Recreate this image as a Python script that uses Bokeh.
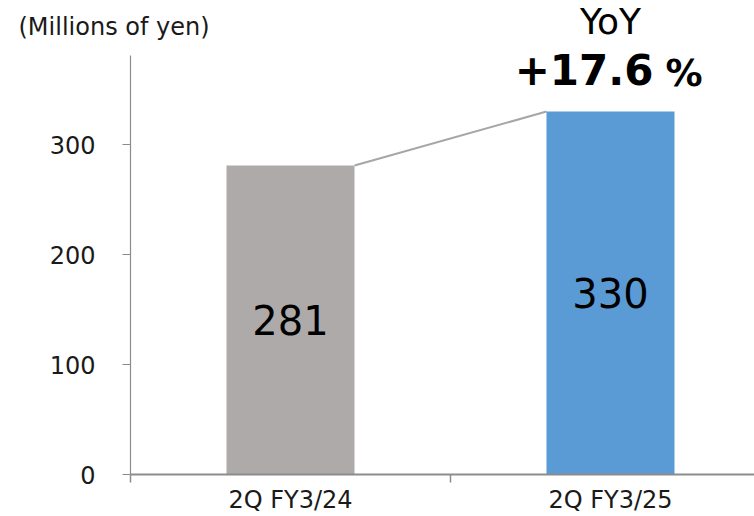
from bokeh.plotting import figure
from bokeh.layouts import column
from bokeh.models import Range1d, FixedTicker, ColumnDataSource
from bokeh.embed import file_html
from bokeh.resources import INLINE
from bokeh.core.properties import value

# Quarterly figures (millions of yen)
periods = ["2Q FY3/24", "2Q FY3/25"]
amounts = [281, 330]
bar_colors = ["#AEAAAA", "#5B9BD5"]
y_ticks = [0, 100, 200, 300]
unit_text = "(Millions of yen)"
yoy_title = "YoY"
yoy_value = "+17.6"
yoy_unit = "%"

FONT = "DejaVu Sans"
TEXT_COLOR = "#1a1a1a"
AXIS_COLOR = "#8c8c8c"

W = 754
HEADER_H = 44          # strip holding the unit caption and the YoY heading
CHART_H = 516 - HEADER_H
LEFT = 130
BOTTOM = 42

X_MAX = 1.95
Y_AXIS_TOP = 381       # value axis is drawn from 0 up to here
px_per_x = (W - LEFT) / X_MAX
px_per_y = 419 / Y_AXIS_TOP
Y_MAX = (CHART_H - BOTTOM) / px_per_y


def y_main(page_px):
    """Data y of a page pixel row inside the chart frame."""
    return Y_MAX - (page_px - HEADER_H) / px_per_y


def y_head(page_px):
    """Data y of a page pixel row inside the header strip."""
    return Y_MAX + (HEADER_H - page_px) / px_per_y


centers = [i + 0.5 for i in range(len(periods))]
bar_width = 0.4

src = ColumnDataSource(dict(
    x=centers,
    top=amounts,
    color=bar_colors,
    mid=[a / 2 for a in amounts],
    label=[str(a) for a in amounts],
))

# ---- header strip ----
head = figure(
    width=W, height=HEADER_H,
    output_backend="svg", toolbar_location=None,
    x_range=Range1d(-LEFT / px_per_x, X_MAX),
    y_range=Range1d(Y_MAX, Y_MAX + HEADER_H / px_per_y),
    x_axis_type=None, y_axis_type=None,
    min_border=0,
)
head.frame_align = False
head.outline_line_color = None
head.grid.visible = False
head.border_fill_color = "white"

head.text(x=[-0.35], y=[y_head(26)], text=[unit_text],
          text_font=value(FONT), text_font_size="24px", text_color=TEXT_COLOR,
          text_align="left", text_baseline="middle")
head.text(x=[centers[1]], y=[y_head(21)], text=[yoy_title],
          text_font=value(FONT), text_font_size="36px", text_color="black",
          text_align="center", text_baseline="middle")

# ---- main chart ----
p = figure(
    width=W, height=CHART_H,
    output_backend="svg", toolbar_location=None,
    x_range=Range1d(0, X_MAX), y_range=Range1d(0, Y_MAX),
    min_border_left=LEFT, min_border_right=0,
    min_border_top=0, min_border_bottom=BOTTOM,
)
p.frame_align = False
p.outline_line_color = None
p.grid.visible = False
p.border_fill_color = "white"

# y axis
ya = p.yaxis[0]
ya.ticker = FixedTicker(ticks=y_ticks)
ya.bounds = (0, Y_AXIS_TOP)
ya.axis_line_color = AXIS_COLOR
ya.axis_line_width = 1.2
ya.major_tick_line_color = AXIS_COLOR
ya.major_tick_line_width = 1.2
ya.major_tick_in = 0
ya.major_tick_out = 8
ya.minor_tick_line_color = None
ya.major_label_standoff = 27
ya.major_label_text_font = FONT
ya.major_label_text_font_size = "24px"
ya.major_label_text_color = TEXT_COLOR

# x axis: labels at category centres, tick marks on category boundaries
xa = p.xaxis[0]
xa.ticker = FixedTicker(ticks=centers, minor_ticks=[0, 1, 2])
xa.major_label_overrides = {c: name for c, name in zip(centers, periods)}
xa.axis_line_color = AXIS_COLOR
xa.axis_line_width = 2
xa.major_tick_line_color = None
xa.major_tick_in = 0
xa.major_tick_out = 0
xa.minor_tick_line_color = AXIS_COLOR
xa.minor_tick_line_width = 1.5
xa.minor_tick_in = 0
xa.minor_tick_out = 8
xa.major_label_standoff = 3
xa.major_label_text_font = FONT
xa.major_label_text_font_size = "24px"
xa.major_label_text_color = TEXT_COLOR

# connector between the two bar tops
p.line(x=[centers[0] + bar_width / 2, centers[1] - bar_width / 2],
       y=[amounts[0], amounts[1]],
       line_color="#a6a6a6", line_width=2)

p.vbar(x="x", top="top", width=bar_width, bottom=0, color="color",
       line_color=None, source=src)

p.text(x="x", y="mid", text="label", source=src,
       text_font=value(FONT), text_font_size="40px",
       text_align="center", text_baseline="middle", text_color="black")

# year-on-year change above the latest bar
p.text(x=[centers[1]], y=[y_main(69)], text=[yoy_value], x_offset=43,
       text_font=value(FONT), text_font_size="42px", text_font_style="bold",
       text_color="black", text_align="right", text_baseline="middle")
p.text(x=[centers[1]], y=[y_main(73)], text=[yoy_unit], x_offset=55,
       text_font=value(FONT), text_font_size="37px", text_font_style="bold",
       text_color="black", text_align="left", text_baseline="middle")

layout = column(head, p, spacing=0)
open("out.html", "w").write(file_html(layout, INLINE))
